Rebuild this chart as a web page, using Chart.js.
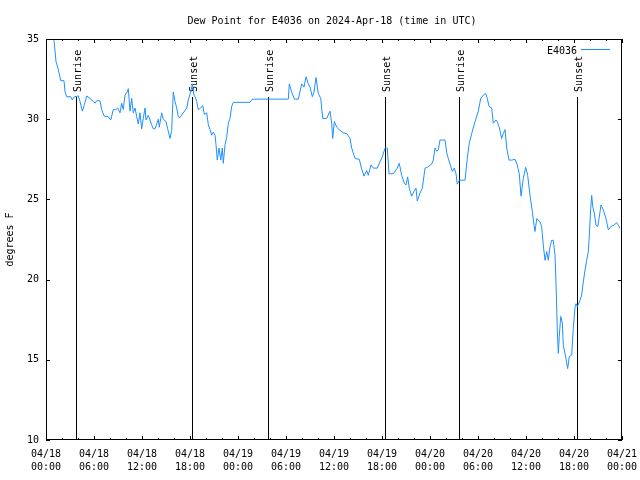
<!DOCTYPE html>
<html><head><meta charset="utf-8">
<script src="https://cdn.jsdelivr.net/npm/chart.js@4"></script>
<style>html,body{margin:0;padding:0;background:#fff}canvas{display:block}</style>
</head><body>
<canvas id="c" width="640" height="480"></canvas>
<script>
const chartTitle = 'Dew Point for E4036 on 2024-Apr-18 (time in UTC)';
const seriesName = 'E4036';
const yAxisTitle = 'degrees F';

// hours since 2024-04-18 00:00 UTC
const hours = [0.75,1.0,1.25,1.54,1.84,2.25,2.38,2.59,3.09,3.29,3.54,4.04,4.25,4.54,4.79,5.09,5.5,5.91,6.13,6.34,6.75,6.96,7.25,7.79,8.09,8.41,8.71,8.96,9.25,9.46,9.66,9.88,10.16,10.29,10.5,10.71,10.91,11.13,11.34,11.54,11.75,11.96,12.16,12.38,12.5,12.79,13.21,13.41,13.63,13.84,14.04,14.16,14.46,14.66,15.0,15.21,15.5,15.71,15.91,16.13,16.34,16.54,16.75,17.16,17.59,17.79,18.09,18.3,18.5,18.63,18.84,19.04,19.34,19.59,19.79,20.09,20.29,20.5,20.71,20.91,21.13,21.25,21.41,21.63,21.84,22.04,22.16,22.38,22.59,22.79,23.0,23.21,23.41,25.5,25.79,30.29,30.41,30.71,31.04,31.54,31.96,32.25,32.5,32.79,33.0,33.29,33.5,33.75,34.04,34.34,34.59,35.09,35.5,35.71,35.84,36.04,36.34,36.75,37.16,37.59,38.0,38.21,38.63,39.16,39.46,39.75,40.09,40.29,40.63,40.91,41.41,41.75,42.04,42.38,42.66,42.88,43.41,43.91,44.16,44.46,44.79,45.0,45.21,45.41,45.71,46.0,46.25,46.41,46.75,47.04,47.38,47.66,48.21,48.41,48.63,48.84,49.04,49.25,49.88,50.09,50.29,50.59,50.79,51.04,51.25,51.41,51.66,52.38,52.66,52.91,53.21,53.63,54.04,54.34,54.66,54.96,55.16,55.38,55.71,55.91,56.25,56.41,56.66,56.96,57.16,57.38,57.59,57.88,58.21,58.63,58.91,59.16,59.38,59.66,59.96,60.21,60.5,60.79,61.0,61.13,61.34,61.75,61.96,62.16,62.38,62.59,62.79,63.0,63.21,63.41,63.63,63.75,63.91,64.04,64.16,64.34,64.54,64.66,64.88,65.09,65.21,65.41,65.71,65.91,66.13,66.25,66.41,66.75,66.96,67.16,67.38,67.59,67.79,67.91,68.09,68.21,68.34,68.54,68.75,68.96,69.16,69.38,69.66,70.0,70.29,70.59,71.0,71.34,71.66,71.75];
const dewPoint = [36.3,34.9,33.6,33.1,32.4,32.4,31.7,31.4,31.4,31.2,31.4,31.45,31.1,30.5,30.9,31.45,31.3,31.1,31.0,31.15,31.15,30.6,30.2,30.15,29.95,30.6,30.6,30.7,30.4,31.0,30.6,31.5,31.7,31.9,30.5,31.3,30.4,30.7,30.15,29.7,30.4,29.4,30.05,30.7,29.95,30.25,29.65,29.4,29.4,29.7,30.0,29.5,30.4,30.0,29.85,29.4,28.8,29.3,31.7,31.1,30.7,30.15,30.1,30.4,30.7,31.2,31.7,32.2,31.5,31.4,31.1,30.6,30.7,30.85,30.3,30.4,29.65,29.35,29.0,29.2,29.0,28.4,27.45,28.2,27.45,28.2,27.25,28.4,28.9,29.75,30.05,30.8,31.05,31.05,31.25,31.25,32.2,31.7,31.25,31.25,32.2,32.0,32.65,32.2,32.0,31.4,31.7,32.6,31.6,31.3,30.05,30.05,30.5,29.75,28.8,29.85,29.5,29.3,29.15,29.1,28.8,28.2,27.55,27.5,26.9,26.45,26.8,26.5,27.15,26.95,26.95,27.35,27.65,28.2,28.2,26.6,26.6,26.95,27.25,26.5,26.0,25.9,26.4,25.7,25.2,25.5,25.7,24.9,25.4,25.7,26.95,27.0,27.2,27.45,28.2,28.0,28.1,28.7,28.7,27.9,27.55,27.05,26.75,26.95,26.6,25.95,26.2,26.2,27.55,28.5,29.1,29.85,30.5,31.3,31.5,31.6,31.3,30.8,30.7,29.75,29.95,29.85,29.5,28.8,29.1,29.35,28.2,27.45,27.45,27.5,27.15,26.6,25.2,26.3,27.0,26.5,25.25,24.25,23.4,23.0,23.8,23.6,23.3,22.15,21.2,21.75,21.2,22.05,22.45,22.45,21.5,19.8,16.9,15.4,16.45,17.7,17.3,15.9,15.4,14.8,14.45,15.2,15.3,16.95,18.3,18.5,18.3,18.7,19.05,19.85,20.6,21.2,21.75,22.7,24.45,25.25,24.55,24.15,23.4,23.3,23.9,24.65,24.35,23.8,23.1,23.3,23.4,23.55,23.3,23.2];

const eventHours = [3.77, 18.3, 27.72, 42.32, 51.68, 66.33];
const eventLabels = ['Sunrise','Sunset','Sunrise','Sunset','Sunrise','Sunset'];

const xTickLabels = [['04/18','00:00'],['04/18','06:00'],['04/18','12:00'],['04/18','18:00'],['04/19','00:00'],['04/19','06:00'],['04/19','12:00'],['04/19','18:00'],['04/20','00:00'],['04/20','06:00'],['04/20','12:00'],['04/20','18:00'],['04/21','00:00']];
const xMajorStep = 6;
const xMinorStep = 2;
const yMin = 10, yMax = 35, yStep = 5;

const FONT = "'DejaVu Sans Mono', 'Liberation Mono', monospace";
const LINE_COLOR = '#1e90ff';

const decor = {
  id: 'decor',
  beforeDatasetsDraw(chart) {
    const {ctx, chartArea: a, scales: {x}} = chart;
    const h = a.bottom - a.top;
    const lineTopY = a.bottom - 0.855 * h;
    const labelY = a.bottom - 0.868 * h;
    ctx.save();
    ctx.strokeStyle = '#000';
    ctx.lineWidth = 1;
    ctx.fillStyle = '#000';
    ctx.font = '10px ' + FONT;
    eventHours.forEach((ev, i) => {
      const px = Math.round(x.getPixelForValue(ev)) + 0.5;
      ctx.beginPath();
      ctx.moveTo(px, Math.round(lineTopY));
      ctx.lineTo(px, a.bottom);
      ctx.stroke();
      ctx.save();
      ctx.translate(px + 4, labelY);
      ctx.rotate(-Math.PI / 2);
      ctx.textAlign = 'left';
      ctx.textBaseline = 'alphabetic';
      ctx.fillText(eventLabels[i], 0, 0);
      ctx.restore();
    });
    ctx.restore();
  },
  afterDraw(chart) {
    const {ctx, chartArea: a, scales: {x, y}} = chart;
    ctx.save();
    ctx.strokeStyle = '#000';
    ctx.lineWidth = 1;
    // border
    ctx.strokeRect(a.left + 0.5, a.top + 0.5, a.right - a.left - 1, a.bottom - a.top - 1);
    // x ticks (inward, top & bottom)
    ctx.beginPath();
    for (let v = x.min; v <= x.max + 1e-9; v += xMinorStep) {
      const px = Math.round(x.getPixelForValue(v)) + 0.5;
      const len = (Math.abs(v % xMajorStep) < 1e-9) ? 4 : 2;
      ctx.moveTo(px, a.bottom); ctx.lineTo(px, a.bottom - len);
      ctx.moveTo(px, a.top); ctx.lineTo(px, a.top + len);
    }
    // y ticks (inward, left & right)
    for (let v = yMin; v <= yMax; v += yStep) {
      const py = Math.round(y.getPixelForValue(v)) + 0.5;
      ctx.moveTo(a.left, py); ctx.lineTo(a.left + 4, py);
      ctx.moveTo(a.right, py); ctx.lineTo(a.right - 4, py);
    }
    ctx.stroke();
    // title
    ctx.fillStyle = '#000';
    ctx.font = '10px ' + FONT;
    ctx.textAlign = 'center';
    ctx.textBaseline = 'alphabetic';
    ctx.fillText(chartTitle, (a.left + a.right) / 2 - 2, 23.5);
    // legend
    ctx.textAlign = 'right';
    ctx.fillText(seriesName, a.right - 45, a.top + 14.5);
    ctx.strokeStyle = LINE_COLOR;
    ctx.beginPath();
    ctx.moveTo(a.right - 41, a.top + 10.5);
    ctx.lineTo(a.right - 12, a.top + 10.5);
    ctx.stroke();
    ctx.restore();
  }
};

new Chart(document.getElementById('c'), {
  type: 'line',
  data: {
    datasets: [{
      label: seriesName,
      data: hours.map((h, i) => ({x: h, y: dewPoint[i]})),
      borderColor: LINE_COLOR,
      borderWidth: 1,
      pointRadius: 0,
      tension: 0,
      fill: false
    }]
  },
  options: {
    responsive: false,
    animation: false,
    events: [],
    layout: {padding: {top: 39, left: 0, right: 18, bottom: 0}},
    plugins: {legend: {display: false}, title: {display: false}, tooltip: {enabled: false}},
    scales: {
      x: {
        type: 'linear', min: 0, max: 72,
        afterFit(s) { s.height = 40; s.paddingLeft = 0; s.paddingRight = 0; },
        grid: {display: false, drawTicks: false},
        border: {display: false},
        ticks: {
          stepSize: xMajorStep, autoSkip: false, maxRotation: 0, minRotation: 0,
          padding: 8, color: '#000',
          font: {family: FONT, size: 10, lineHeight: 1.3},
          callback: (v) => xTickLabels[Math.round(v / xMajorStep)]
        }
      },
      y: {
        min: yMin, max: yMax,
        afterFit(s) { s.width = 46; s.paddingTop = 0; s.paddingBottom = 0; },
        grid: {display: false, drawTicks: false},
        border: {display: false},
        ticks: {stepSize: yStep, padding: 7, color: '#000', font: {family: FONT, size: 10}},
        title: {display: true, text: yAxisTitle, color: '#000', font: {family: FONT, size: 10}, padding: {top: 4, bottom: 0}}
      }
    }
  },
  plugins: [decor]
});
</script>
</body></html>
